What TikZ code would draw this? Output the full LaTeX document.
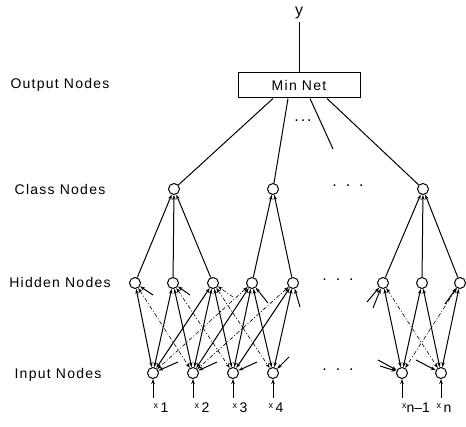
\documentclass[tikz,border=0pt]{standalone}
\usepackage{fontspec}
\setmainfont{Liberation Sans}
\newfontfamily\labfont[LetterSpace=9]{Liberation Sans}
\usetikzlibrary{arrows.meta}
\begin{document}
\begin{tikzpicture}[x=1pt,y=-1pt,
  neuron/.style={circle,draw,line width=1pt,minimum size=11pt,inner sep=0pt,fill=white},
  lab/.style={font=\labfont\fontsize{14}{15}\selectfont,anchor=center},
  xlab/.style={font=\fontsize{14}{15}\selectfont,inner sep=0pt},
  conn/.style={line width=1pt},
  dd/.style={line width=0.6pt,dash pattern=on 4pt off 2pt on 1pt off 2pt},
  tip/.style={-{Stealth[length=5pt,width=3.5pt]}},
  both/.style={{Stealth[length=5pt,width=3.5pt]}-{Stealth[length=5pt,width=3.5pt]}},
  dotsn/.style={font=\fontsize{16}{16}\selectfont}]
\useasboundingbox (0,0) rectangle (466,427);

% left labels
\node[lab] (lo) at (60,85) {Output Nodes};
\node[lab] (lc) at (60,189) {Class Nodes};
\node[lab] (lh) at (60,282) {Hidden Nodes};
\node[lab] (li) at (58,375) {Input Nodes};

% output
\node[font=\fontsize{16}{16}\selectfont] (y) at (299,13) {y};
\node[draw,line width=1pt,minimum width=122pt,minimum height=25pt,inner sep=0pt,
      font=\labfont\fontsize{14}{15}\selectfont] (box) at (299,85.5) {Min Net};
\draw[conn] (y.south) -- (box.north);

% class nodes
\node[neuron] (c1) at (174,189) {};
\node[neuron] (c2) at (273,189) {};
\node[neuron] (c3) at (423,189) {};
\node[dotsn] (cd) at (348,186) {.\hspace{9pt}.\hspace{9pt}.};

\draw[conn] ([xshift=-26pt]box.south) -- (c1);
\draw[conn] ([xshift=-11pt]box.south) -- (c2);
\coordinate (stub0) at (333,149);
\draw[conn] ([xshift=11pt]box.south) -- (stub0);
\draw[conn] ([xshift=28pt]box.south) -- (c3);
\node[dotsn] (od) at (303,121) {.\hspace{2pt}.\hspace{2pt}.};

% hidden nodes
\foreach \n/\x in {1/135,2/173,3/213,4/252,5/293,6/383,7/422,8/460}
  \node[neuron] (h\n) at (\x,283) {};
\node[dotsn] (hd) at (338,280) {.\hspace{9pt}.\hspace{9pt}.};

% input nodes
\foreach \n/\x in {1/153,2/193,3/233,4/273,5/402,6/441}
  \node[neuron] (i\n) at (\x,373) {};
\node[dotsn] (id) at (338,370) {.\hspace{9pt}.\hspace{9pt}.};

% hidden -> class
\foreach \h in {1,2,3} \draw[conn,tip] (h\h) -- (c1);
\foreach \h in {4,5} \draw[conn,tip] (h\h) -- (c2);
\foreach \h in {6,7,8} \draw[conn,tip] (h\h) -- (c3);

% hidden <-> input
\foreach \h/\i in {1/1,2/1,2/2,3/1,3/2,3/3,4/2,4/3,4/4,5/3,5/4,6/5,7/5,7/6,8/6}
  \draw[conn,both] (h\h) -- (i\i);
\foreach \h/\i in {1/2,2/3,3/4,4/1,5/2,6/6,8/5}
  \draw[dd,both] (h\h) -- (i\i);

% stubs
\coordinate (s1) at (153,295);
\coordinate (s2) at (190,295);
\coordinate (s3) at (233,297);
\coordinate (s4) at (268,303);
\coordinate (s5) at (300,307);
\coordinate (s6a) at (367,302);
\coordinate (s6b) at (373,308);
\coordinate (s8) at (445,304);
\coordinate (t1) at (178,362);
\coordinate (t2) at (217,362);
\coordinate (t3) at (257,362);
\coordinate (t4) at (289,357);
\coordinate (t5a) at (378,360);
\coordinate (t5b) at (380,366);
\coordinate (t6) at (416,360);
\foreach \h/\s in {1/s1,2/s2,4/s4,5/s5,6/s6a,6/s6b,8/s8}
  \draw[conn,tip] (\s) -- (h\h);
\draw[dd,tip] (s3) -- (h3);
\foreach \i/\s in {1/t1,2/t2,3/t3,4/t4,5/t5a,5/t5b,6/t6}
  \draw[conn,tip] (\s) -- (i\i);

% input labels
\foreach \n/\x/\t in {1/161/1,2/202/2,3/240/3,4/276/4,6/444/n}
  \node[xlab] (x\n) at (\x,408) {\raisebox{4pt}{\fontsize{9}{10}\selectfont x}\,\t};
\node[xlab] (x5) at (416,408) {\raisebox{4pt}{\fontsize{9}{10}\selectfont x}n--1};
\foreach \n/\x in {1/153,2/193,3/233,4/273,5/402,6/441}
  \draw[conn,tip] (\x,398) -- (i\n);
\end{tikzpicture}
\end{document}
